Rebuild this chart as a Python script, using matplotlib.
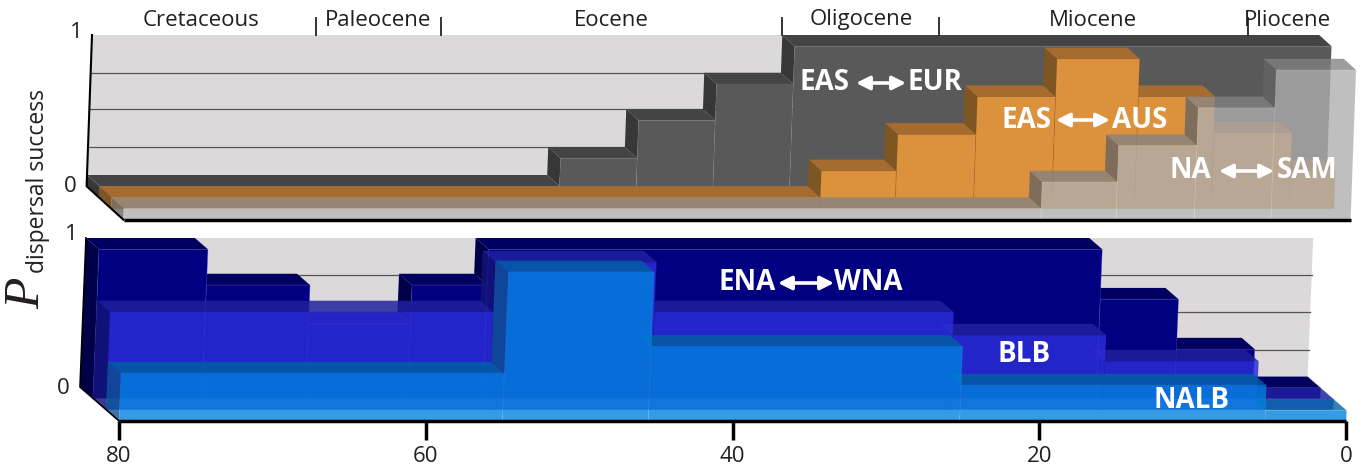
import matplotlib
matplotlib.use("Agg")
from matplotlib import pyplot as plt
from matplotlib.patches import Polygon

# series values (age in Myr, P at each bin)
eas_eur_edges = [80, 50, 45, 40, 35, 0]
eas_eur_vals = [0, 0.2, 0.47, 0.73, 1.0]
eas_aus_edges = [80, 33.8, 28.9, 23.8, 18.7, 13.3, 8.3, 3.2, 0.3]
eas_aus_vals = [0, 0.19, 0.45, 0.72, 0.99, 0.72, 0.46, 0.19]
na_sam_edges = [80, 20.2, 15.3, 10.2, 5.2, 0]
na_sam_vals = [0, 0.19, 0.45, 0.72, 0.99]

ena_wna_edges = [80, 72.9, 66.15, 59.5, 54.6, 14.6, 9.5, 4.4, 0]
ena_wna_vals = [1.0, 0.76, 0.5, 0.76, 1.0, 0.665, 0.33, 0.07]
blb_edges = [80, 55, 44.5, 25, 15, 5, 0]
blb_vals = [0.655, 0.99, 0.655, 0.5, 0.325, 0.07]
nalb_edges = [80, 55, 45.5, 25.2, 5.3, 0]
nalb_vals = [0.32, 1.0, 0.5, 0.24, 0.07]

top_grid = [0.2, 0.47, 0.73]
bottom_grid = [0.25, 0.5, 0.75]
age_ticks = [80, 60, 40, 20, 0]
epoch_names = ["Cretaceous", "Paleocene", "Eocene", "Oligocene", "Miocene", "Pliocene"]
epoch_bounds = [65.4, 57.25, 35, 24.8, 4.64]
epoch_label_x = [201, 378, 611, 861, 1093, 1287]

FONT = "Open Sans"


def rgb(r, g, b, a=1.0):
    return (r / 255, g / 255, b / 255, a)


def projector(x0, y0, dx, dy, h, lean):
    """Fake 3D: age, depth layer and height to picture position."""
    def P(t, d, v):
        return (x0 + 15.34 * (80 - t) + dx * d + lean * v, y0 + dy * d - h * v)
    return P


def add_poly(ax, pts, color, edge="none", lw=0, z=1):
    ax.add_patch(Polygon(pts, closed=True, facecolor=color, edgecolor=edge, linewidth=lw, zorder=z))


def draw_steps(ax, P, edges, vals, d, front, top, side, drop=0.0, seam=(1, 1, 1, 0.12)):
    """One step series between depth layers d and d+1."""
    prev = -drop
    for i, v in enumerate(vals):
        t0, t1 = edges[i], edges[i + 1]
        if v > prev:
            add_poly(ax, [P(t0, d, prev), P(t0, d, v), P(t0, d + 1, v), P(t0, d + 1, prev)], side)
        add_poly(ax, [P(t0, d, v), P(t1, d, v), P(t1, d + 1, v), P(t0, d + 1, v)], top)
        prev = v
    for i, v in enumerate(vals):
        t0, t1 = edges[i], edges[i + 1]
        add_poly(ax, [P(t0, d + 1, v), P(t1, d + 1, v), P(t1, d + 1, -drop), P(t0, d + 1, -drop)],
                 front, edge=seam, lw=0.5)


def draw_wall(ax, P, grid):
    add_poly(ax, [P(80, 0, 0), P(80, 0, 1), P(0, 0, 1), P(0, 0, 0)], "#dbd9da", z=0)
    for v in grid:
        a, b = P(80, 0, v), P(0, 0, v)
        ax.plot([a[0], b[0]], [a[1], b[1]], color="#555555", lw=0.9, zorder=0.5)


def double_arrow(ax, x0, x1, y):
    ax.annotate("", xy=(x1, y), xytext=(x0, y),
                arrowprops=dict(arrowstyle="<|-|>", color="white", lw=2.6, mutation_scale=20,
                                shrinkA=0, shrinkB=0))


def white_label(ax, x, y, s):
    ax.text(x, y, s, color="white", fontsize=20, fontweight="bold", family=FONT,
            ha="center", va="center")


fig = plt.figure(figsize=(13.66, 4.69), dpi=100)
ax = fig.add_axes([0, 0, 1, 1])
ax.set_xlim(0, 1366)
ax.set_ylim(469, 0)
ax.axis("off")

###
# top panel
Pt = projector(87, 175, 12.3, 11.2, 140, 5)
draw_wall(ax, Pt, top_grid)
draw_steps(ax, Pt, eas_eur_edges, eas_eur_vals, 0, "#595959", "#444444", "#373737", drop=0.08,
           seam=(1, 1, 1, 0.06))
draw_steps(ax, Pt, eas_aus_edges, eas_aus_vals, 1, "#dc913c", "#a66c2f", "#7e5622", drop=0.08,
           seam=(0.5, 0.25, 0, 0.25))
draw_steps(ax, Pt, na_sam_edges, na_sam_vals, 2, rgb(174, 174, 174, 0.78), rgb(130, 130, 130, 0.78),
           rgb(100, 100, 100, 0.78), drop=0.08, seam=(1, 1, 1, 0.2))

a, b, c, e = Pt(80, 0, 1), Pt(80, 0, 0), Pt(80, 0, -0.08), Pt(80, 3, -0.08)
ax.plot([a[0], b[0], c[0], e[0]], [a[1], b[1], c[1], e[1]], color="black", lw=1.5)
e2 = Pt(0, 3, -0.08)
ax.plot([e[0], e2[0]], [e[1] + 0.5, e2[1] + 0.5], color="black", lw=2.5, solid_capstyle="butt")

for t in epoch_bounds:
    p = Pt(t, 0, 1)
    ax.plot([p[0], p[0]], [p[1] - 17, p[1]], color="#333333", lw=1.4)
for x, name in zip(epoch_label_x, epoch_names):
    ax.text(x, 20, name, fontsize=16, color="#231f20", family=FONT, ha="center", va="center")

white_label(ax, 824, 82, "EAS")
double_arrow(ax, 856, 906, 83)
white_label(ax, 935, 82, "EUR")
white_label(ax, 1027, 120, "EAS")
double_arrow(ax, 1056, 1110, 120)
white_label(ax, 1140, 120, "AUS")
white_label(ax, 1190, 170, "NA")
double_arrow(ax, 1219, 1274, 171)
white_label(ax, 1307, 170, "SAM")

###
# bottom panel
Pb = projector(80, 387, 13, 11.3, 149, 6)
draw_wall(ax, Pb, bottom_grid)
draw_steps(ax, Pb, ena_wna_edges, ena_wna_vals, 0, rgb(0, 0, 128), rgb(0, 0, 96), rgb(0, 0, 72),
           seam=(0.3, 0.3, 0.8, 0.5))
draw_steps(ax, Pb, blb_edges, blb_vals, 1, rgb(44, 44, 218, 0.84), rgb(32, 32, 160, 0.84),
           rgb(20, 20, 120, 0.84), seam=(0.1, 0.1, 0.6, 0.3))
draw_steps(ax, Pb, nalb_edges, nalb_vals, 2, rgb(0, 129, 221, 0.794), rgb(0, 99, 161, 0.794),
           rgb(10, 80, 140, 0.794), seam=(1, 1, 1, 0.08))

a, b, e = Pb(80, 0, 1), Pb(80, 0, 0), Pb(80, 3, 0)
ax.plot([a[0], b[0], e[0]], [a[1], b[1], e[1]], color="black", lw=1.2)
e2 = Pb(0, 3, 0)
ax.plot([e[0], e2[0]], [e[1] + 0.5, e2[1] + 0.5], color="black", lw=2.5, solid_capstyle="butt")
for t in age_ticks:
    p = Pb(t, 3, 0)
    ax.plot([p[0], p[0]], [p[1], p[1] + 19], color="black", lw=2.5, solid_capstyle="butt")
    ax.text(p[0], 456, str(t), fontsize=16, color="#231f20", family=FONT, ha="center", va="center")

white_label(ax, 747, 283, "ENA")
double_arrow(ax, 778, 834, 283)
white_label(ax, 868, 283, "WNA")
white_label(ax, 1024, 355, "BLB")
white_label(ax, 1192, 401, "NALB")

###
# y axis text
for x, y, s in [(76, 33, "1"), (70, 186, "0"), (71, 235, "1"), (63, 388, "0")]:
    ax.text(x, y, s, fontsize=16, color="#231f20", family=FONT, ha="center", va="center")
ax.text(27, 293, "P", fontsize=37, family="Liberation Serif", style="italic", rotation=90,
        color="#231f20", ha="center", va="center")
ax.text(38, 181, "dispersal success", fontsize=16.5, family=FONT, rotation=90,
        color="#231f20", ha="center", va="center")

fig.savefig("out.png", dpi=100)
